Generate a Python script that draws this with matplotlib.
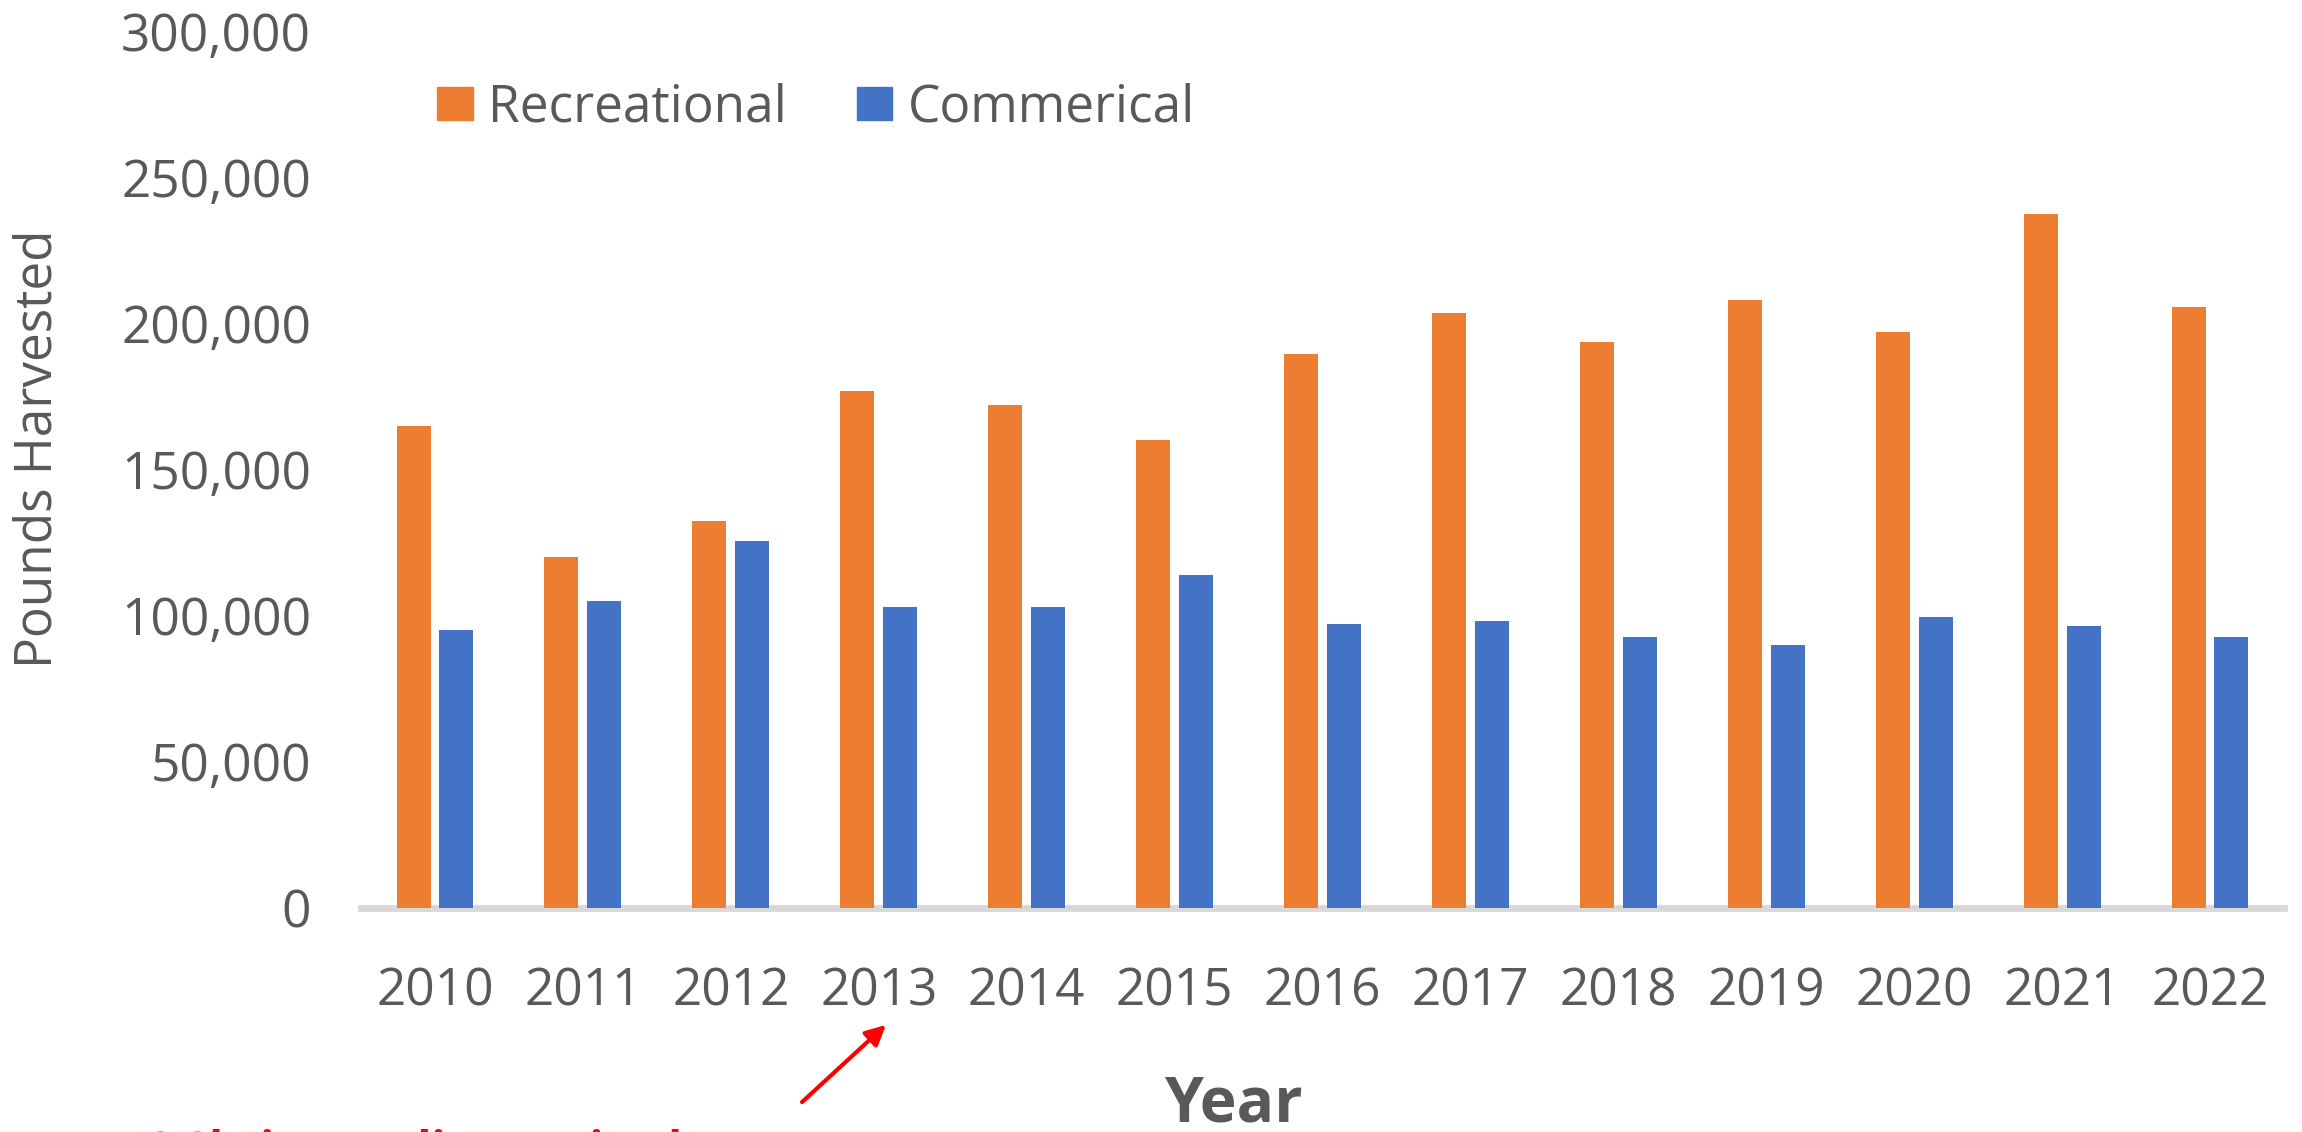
import matplotlib
matplotlib.use("Agg")
import matplotlib.pyplot as plt
from matplotlib.patches import Patch
from matplotlib.ticker import FuncFormatter
import numpy as np

years = ["2010", "2011", "2012", "2013", "2014", "2015", "2016",
         "2017", "2018", "2019", "2020", "2021", "2022"]
recreational = [165000, 120000, 132500, 177000, 172000, 160000, 189500,
                203500, 193500, 208000, 197000, 237500, 205500]
commercial = [95000, 105000, 125500, 102800, 102800, 114000, 97300,
              98300, 92800, 89800, 99600, 96300, 92800]
series_names = ["Recreational", "Commerical"]
yticks = [0, 50000, 100000, 150000, 200000, 250000, 300000]

plt.rcParams['font.family'] = ['Open Sans', 'DejaVu Sans']
GRAY = "#595959"
ORANGE = "#ED7D31"
BLUE = "#4472C4"

W, H = 2302, 1132
fig = plt.figure(figsize=(W / 100, H / 100), dpi=100)
left, right = 361 / W, 2284 / W
bottom, top = 1 - 908 / H, 1 - 31 / H
ax = fig.add_axes([left, bottom, right - left, top - bottom])

x = np.arange(len(years))
bw = 0.23
ax.bar(x - 0.145, recreational, width=bw, color=ORANGE, zorder=2)
ax.bar(x + 0.145, commercial, width=bw, color=BLUE, zorder=2)
ax.axhline(0, color="#D9D9D9", linewidth=5, zorder=1, clip_on=False)

ax.set_xlim(-0.5, len(years) - 0.5)
ax.set_ylim(0, 300000)
ax.set_yticks(yticks)
ax.yaxis.set_major_formatter(FuncFormatter(lambda v, p: f"{int(v):,}"))
ax.set_xticks(x)
ax.set_xticklabels(years)
for s in ax.spines.values():
    s.set_visible(False)
ax.tick_params(axis='y', length=0, pad=36, labelsize=37, labelcolor=GRAY)
ax.tick_params(axis='x', length=0, pad=42, labelsize=37, labelcolor=GRAY)

fig.text(38 / W, 1 - 449 / H, "Pounds Harvested", rotation=90,
         ha="center", va="center", fontsize=37, color=GRAY)
fig.text(1233 / W, 1 - 1122 / H, "Year", ha="center", va="baseline",
         fontsize=45, fontweight="bold", color=GRAY)

handles = [Patch(color=ORANGE), Patch(color=BLUE)]
fig.legend(handles, series_names, loc="center left",
           bbox_to_anchor=(437 / W, 1 - 108 / H), ncol=2, frameon=False,
           fontsize=37, labelcolor=GRAY, handlelength=0.7, handleheight=0.62,
           handletextpad=0.3, columnspacing=1.35, borderpad=0, borderaxespad=0)

# annotation arrow and partially visible red caption
fig.add_artist(matplotlib.patches.FancyArrowPatch(
    (800 / W, 1 - 1104 / H), (888 / W, 1 - 1023 / H),
    transform=fig.transFigure, arrowstyle="-|>", mutation_scale=30,
    color="#FF0000", linewidth=3))
fig.text(118 / W, 1 - 1165 / H, "PS Shrimp Policy Revised Here",
         ha="left", va="baseline", fontsize=33, fontweight="bold",
         color="#FF0000")

fig.savefig("out.png", dpi=100)
